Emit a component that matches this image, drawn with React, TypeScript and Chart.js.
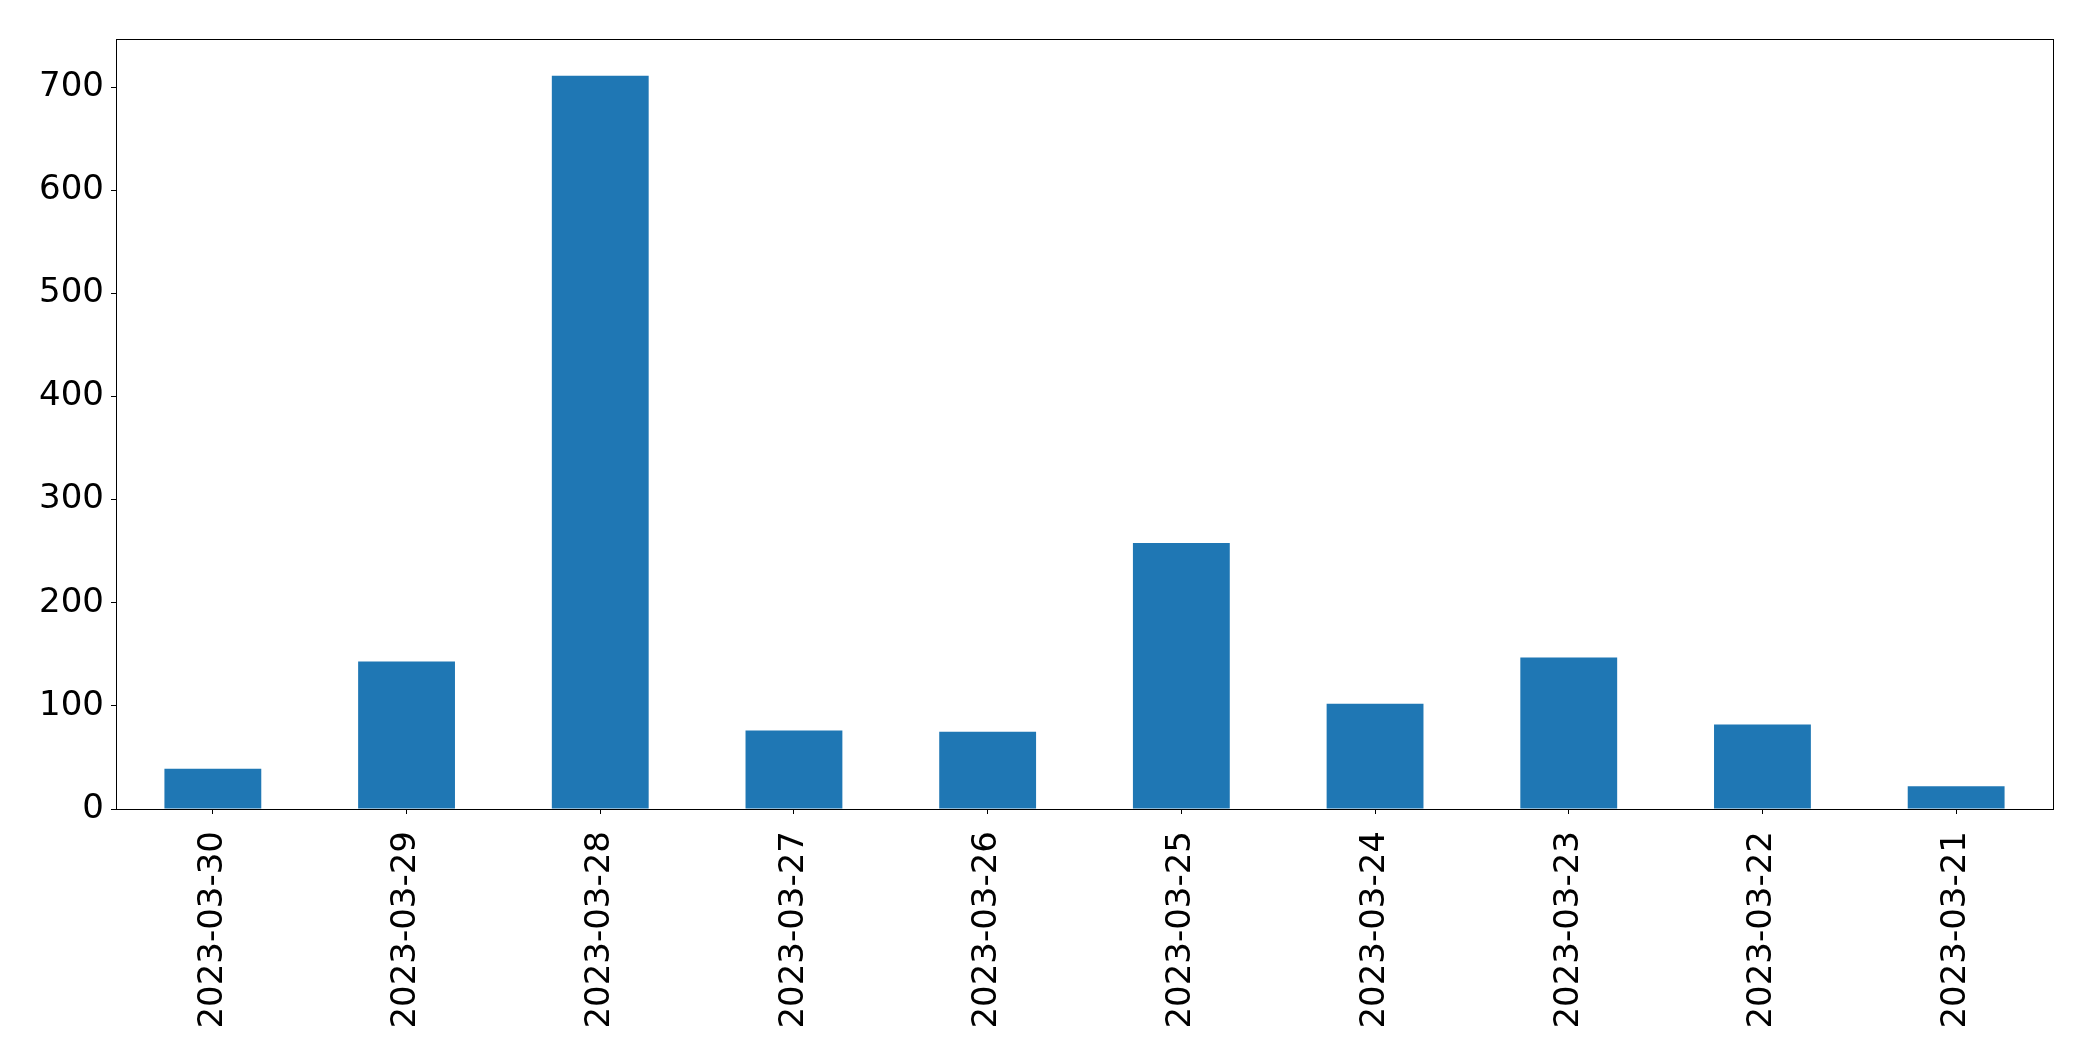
import React, { useEffect, useRef } from "react";
import { Chart, registerables } from "chart.js";

Chart.register(...registerables);

const categories = [
  "2023-03-30",
  "2023-03-29",
  "2023-03-28",
  "2023-03-27",
  "2023-03-26",
  "2023-03-25",
  "2023-03-24",
  "2023-03-23",
  "2023-03-22",
  "2023-03-21",
];
const counts = [39, 143, 711, 76, 75, 258, 102, 147, 82, 22];
const yMax = 746.6;
const yStep = 100;

const W = 2093;
const H = 1061;

const frame = {
  id: "frame",
  afterDraw(chart: any) {
    const { ctx, chartArea } = chart;
    ctx.save();
    ctx.strokeStyle = "#000";
    ctx.lineWidth = 1;
    ctx.strokeRect(
      Math.round(chartArea.left) + 0.5,
      Math.round(chartArea.top) + 0.5,
      Math.round(chartArea.right - chartArea.left),
      Math.round(chartArea.bottom - chartArea.top)
    );
    ctx.restore();
  },
};

export default function App() {
  const ref = useRef<HTMLCanvasElement | null>(null);
  useEffect(() => {
    if (!ref.current) return;
    const font = { family: "'DejaVu Sans'", size: 34 };
    const chart = new Chart(ref.current, {
      type: "bar",
      data: {
        labels: categories,
        datasets: [
          {
            data: counts,
            backgroundColor: "#1f77b4",
            barPercentage: 0.5,
            categoryPercentage: 1.0,
          },
        ],
      },
      options: {
        responsive: false,
        animation: false,
        devicePixelRatio: 1,
        layout: { padding: { top: 39, right: 40, left: 0, bottom: 0 } },
        plugins: { legend: { display: false }, tooltip: { enabled: false } },
        scales: {
          x: {
            offset: true,
            grid: {
              display: true,
              drawOnChartArea: false,
              drawTicks: true,
              tickLength: 5,
              tickColor: "#000",
              offset: false,
            },
            border: { color: "#000", width: 1 },
            ticks: {
              color: "#000",
              font,
              maxRotation: 90,
              minRotation: 90,
              padding: 17,
              autoSkip: false,
            },
            afterFit(scale: any) {
              scale.height = H - 809;
            },
          },
          y: {
            min: 0,
            max: yMax,
            grid: {
              display: true,
              drawOnChartArea: false,
              drawTicks: true,
              tickLength: 5,
              tickColor: "#000",
            },
            border: { color: "#000", width: 1 },
            ticks: {
              color: "#000",
              font,
              stepSize: yStep,
              includeBounds: false,
              padding: 7,
            },
            afterBuildTicks(scale: any) {
              scale.ticks = scale.ticks.filter((t: any) => t.value % yStep === 0);
            },
            afterFit(scale: any) {
              scale.width = 116;
            },
          },
        },
      },
      plugins: [frame],
    });
    return () => chart.destroy();
  }, []);
  return (
    <div style={{ position: "fixed", left: 0, top: 0, width: W, height: H, background: "#fff" }}>
      <canvas ref={ref} width={W} height={H} style={{ width: W, height: H, display: "block" }} />
    </div>
  );
}
